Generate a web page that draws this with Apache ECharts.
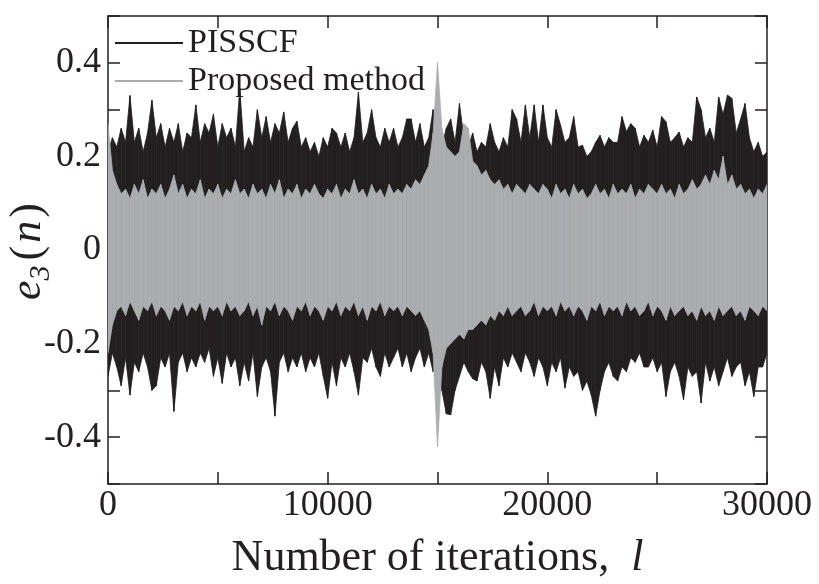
<!DOCTYPE html>
<html><head><meta charset="utf-8">
<script src="https://cdn.jsdelivr.net/npm/echarts@6/dist/echarts.min.js"></script>
<style>html,body{margin:0;padding:0;background:#fff}#c{width:819px;height:584px}</style>
</head><body><div id="c"></div>
<script>
// Envelope samples of the two error signals, one sample every SAMPLE_STEP iterations
const SAMPLE_STEP = 200;
const seriesNames = ['PISSCF', 'Proposed method'];
const xLabelValues = [0, 10000, 20000, 30000];
const yLabelValues = [-0.4, -0.2, 0, 0.2, 0.4];

// PISSCF: upper / lower envelope
const blackHi = [0.21,0.24,0.22,0.26,0.23,0.33,0.23,0.26,0.21,0.25,0.32,0.24,0.27,0.22,0.26,0.23,0.27,0.21,0.25,0.24,
0.31,0.23,0.27,0.25,0.29,0.22,0.27,0.24,0.26,0.22,0.345,0.21,0.24,0.22,0.30,0.24,0.285,0.23,0.27,0.25,
0.295,0.23,0.26,0.275,0.22,0.24,0.21,0.23,0.20,0.24,0.22,0.26,0.25,0.22,0.25,0.21,0.24,0.337,0.23,0.25,
0.30,0.24,0.22,0.26,0.23,0.26,0.22,0.24,0.28,0.28,0.23,0.27,0.22,0.24,0.30,0.24,0.22,0.26,0.28,0.23,
0.313,0.24,0.22,0.25,0.21,0.23,0.22,0.27,0.23,0.21,0.24,0.22,0.30,0.28,0.23,0.31,0.24,0.31,0.23,0.31,
0.24,0.22,0.30,0.267,0.23,0.24,0.285,0.22,0.224,0.20,0.21,0.23,0.245,0.22,0.24,0.23,0.23,0.285,0.253,0.27,
0.26,0.22,0.245,0.23,0.256,0.22,0.285,0.274,0.23,0.24,0.252,0.22,0.24,0.23,0.327,0.30,0.24,0.26,0.23,0.327,
0.29,0.331,0.324,0.25,0.28,0.313,0.24,0.21,0.23,0.20,0.21];
const blackLo = [-0.27,-0.22,-0.25,-0.29,-0.23,-0.31,-0.24,-0.26,-0.22,-0.25,-0.30,-0.29,-0.23,-0.25,-0.22,-0.345,-0.24,-0.22,-0.26,-0.23,
-0.25,-0.22,-0.24,-0.21,-0.27,-0.23,-0.285,-0.22,-0.25,-0.23,-0.29,-0.24,-0.28,-0.22,-0.313,-0.25,-0.23,-0.26,-0.355,-0.24,
-0.22,-0.26,-0.23,-0.25,-0.22,-0.26,-0.23,-0.25,-0.22,-0.27,-0.317,-0.24,-0.29,-0.23,-0.25,-0.22,-0.26,-0.31,-0.23,-0.24,
-0.21,-0.25,-0.27,-0.22,-0.25,-0.23,-0.21,-0.25,-0.22,-0.26,-0.23,-0.21,-0.25,-0.22,-0.26,-0.25,-0.30,-0.35,-0.352,-0.30,
-0.27,-0.24,-0.26,-0.275,-0.28,-0.24,-0.26,-0.317,-0.25,-0.29,-0.23,-0.25,-0.22,-0.24,-0.26,-0.22,-0.24,-0.27,-0.23,-0.25,
-0.29,-0.24,-0.26,-0.23,-0.295,-0.25,-0.27,-0.26,-0.30,-0.28,-0.31,-0.355,-0.30,-0.26,-0.24,-0.27,-0.28,-0.25,-0.26,-0.23,
-0.24,-0.22,-0.25,-0.25,-0.23,-0.26,-0.24,-0.313,-0.26,-0.24,-0.27,-0.32,-0.25,-0.27,-0.26,-0.327,-0.24,-0.28,-0.25,-0.29,
-0.26,-0.23,-0.27,-0.25,-0.24,-0.29,-0.26,-0.313,-0.25,-0.25,-0.22];

// Proposed method: upper / lower envelope
const greyHi = [0.27,0.17,0.14,0.12,0.13,0.11,0.14,0.12,0.15,0.11,0.13,0.12,0.14,0.11,0.13,0.16,0.12,0.14,0.11,0.13,
0.12,0.15,0.11,0.13,0.12,0.14,0.11,0.13,0.12,0.15,0.12,0.13,0.11,0.14,0.12,0.13,0.11,0.14,0.12,0.15,
0.11,0.13,0.12,0.14,0.11,0.13,0.12,0.14,0.12,0.11,0.13,0.12,0.14,0.11,0.13,0.12,0.15,0.12,0.13,0.11,
0.14,0.12,0.13,0.11,0.14,0.12,0.13,0.12,0.14,0.13,0.15,0.14,0.16,0.18,0.25,0.40,0.26,0.22,0.21,0.20,
0.21,0.27,0.26,0.19,0.18,0.16,0.17,0.15,0.14,0.15,0.13,0.14,0.12,0.14,0.13,0.12,0.14,0.13,0.12,0.14,
0.13,0.11,0.14,0.12,0.13,0.11,0.14,0.12,0.13,0.11,0.12,0.14,0.12,0.13,0.11,0.14,0.12,0.13,0.12,0.14,
0.11,0.13,0.12,0.14,0.13,0.12,0.14,0.12,0.13,0.11,0.14,0.12,0.13,0.15,0.13,0.14,0.16,0.14,0.17,0.15,
0.20,0.14,0.16,0.13,0.14,0.12,0.13,0.11,0.13,0.12,0.14];
const greyLo = [-0.22,-0.16,-0.13,-0.12,-0.14,-0.11,-0.13,-0.15,-0.12,-0.13,-0.11,-0.14,-0.12,-0.13,-0.15,-0.12,-0.13,-0.11,-0.14,-0.12,
-0.13,-0.11,-0.15,-0.12,-0.13,-0.12,-0.14,-0.11,-0.13,-0.12,-0.14,-0.13,-0.11,-0.14,-0.12,-0.16,-0.12,-0.13,-0.11,-0.14,
-0.12,-0.13,-0.15,-0.12,-0.13,-0.11,-0.14,-0.12,-0.13,-0.15,-0.12,-0.13,-0.11,-0.14,-0.12,-0.13,-0.11,-0.14,-0.12,-0.15,
-0.12,-0.13,-0.11,-0.14,-0.12,-0.13,-0.12,-0.14,-0.12,-0.13,-0.14,-0.13,-0.15,-0.17,-0.22,-0.42,-0.25,-0.21,-0.20,-0.19,
-0.18,-0.19,-0.17,-0.17,-0.16,-0.15,-0.16,-0.14,-0.15,-0.13,-0.14,-0.12,-0.14,-0.13,-0.12,-0.14,-0.13,-0.11,-0.14,-0.12,
-0.13,-0.12,-0.14,-0.11,-0.13,-0.12,-0.14,-0.12,-0.13,-0.15,-0.12,-0.13,-0.11,-0.14,-0.12,-0.13,-0.12,-0.14,-0.11,-0.13,
-0.12,-0.14,-0.13,-0.11,-0.14,-0.12,-0.13,-0.15,-0.12,-0.14,-0.13,-0.12,-0.14,-0.13,-0.15,-0.12,-0.14,-0.13,-0.15,-0.12,
-0.14,-0.13,-0.12,-0.14,-0.13,-0.15,-0.12,-0.13,-0.14,-0.12,-0.13];

const INK = '#231f20';
const GREY = '#abadb0';
const FONT = 'Liberation Serif';

// One band = min/max envelope; each data item draws the slice up to the next sample
function band(name, hi, lo, color, z) {
  return {
    type: 'custom', name: name, z: z, clip: true,
    itemStyle: { color: color },
    encode: { x: 0, y: [1, 2] },
    data: hi.map((v, i) => [i * SAMPLE_STEP, v, lo[i]]),
    renderItem: function (params, api) {
      const i = params.dataIndex;
      if (i >= hi.length - 1) return null;
      const x0 = api.value(0), x1 = (i + 1) * SAMPLE_STEP;
      const pts = [
        api.coord([x0, api.value(1)]), api.coord([x1, hi[i + 1]]),
        api.coord([x1, lo[i + 1]]), api.coord([x0, api.value(2)])
      ];
      return { type: 'polygon', shape: { points: pts },
        style: { fill: color, stroke: color, lineWidth: 0.8 } };
    }
  };
}

const axisLine = { show: true, onZero: false, lineStyle: { color: INK, width: 1.5 } };
const tick = { show: true, inside: true, length: 12, lineStyle: { color: INK, width: 1.5 } };

const chart = echarts.init(document.getElementById('c'));
chart.setOption({
  animation: false,
  backgroundColor: '#fff',
  grid: { left: 108, right: 52, top: 16, bottom: 100, containLabel: false, outerBoundsMode: 'none' },
  legend: {
    data: seriesNames, orient: 'vertical', left: 110, top: 21,
    icon: 'rect', itemWidth: 68, itemHeight: 2, itemGap: 4,
    textStyle: { fontFamily: FONT, fontSize: 34, lineHeight: 34, color: INK }
  },
  xAxis: [
    { type: 'value', position: 'bottom', min: 0, max: 30000, interval: 5000,
      axisLine: axisLine, axisTick: tick, splitLine: { show: false },
      axisLabel: { color: INK, fontFamily: FONT, fontSize: 36, margin: 4,
        formatter: v => xLabelValues.indexOf(v) >= 0 ? String(v) : '' },
      name: '{a|Number of iterations,  }{i|l}', nameLocation: 'middle', nameGap: 52,
      nameMoveOverlap: false,
      nameTextStyle: { rich: {
        a: { fontFamily: FONT, fontSize: 44, color: INK },
        i: { fontFamily: FONT, fontSize: 44, fontStyle: 'italic', color: INK } } } },
    { type: 'value', position: 'top', min: 0, max: 30000, interval: 5000,
      axisLine: axisLine, axisTick: tick, axisLabel: { show: false }, splitLine: { show: false } }
  ],
  yAxis: [
    { type: 'value', position: 'left', min: -0.5, max: 0.5, interval: 0.1,
      axisLine: axisLine, axisTick: tick, splitLine: { show: false },
      axisLabel: { color: INK, fontFamily: FONT, fontSize: 36, margin: 7,
        formatter: v => {
          const k = Math.round(v * 10);
          const hit = yLabelValues.some(t => Math.round(t * 10) === k);
          return hit ? (k === 0 ? '0' : (k / 10).toFixed(1)) : '';
        } },
      name: '{e|e}{s|3}{p|(}{n|n}{p|)}', nameLocation: 'middle', nameRotate: 90, nameGap: 58,
      nameMoveOverlap: false,
      nameTextStyle: { rich: {
        e: { fontFamily: FONT, fontSize: 44, fontStyle: 'italic', color: INK, lineHeight: 44, verticalAlign: 'top' },
        s: { fontFamily: FONT, fontSize: 30, fontStyle: 'italic', color: INK, lineHeight: 30, verticalAlign: 'top', padding: [20, 2, 0, 0] },
        p: { fontFamily: FONT, fontSize: 44, color: INK, lineHeight: 44, verticalAlign: 'top', padding: [0, 3, 0, 3] },
        n: { fontFamily: FONT, fontSize: 44, fontStyle: 'italic', color: INK, lineHeight: 44, verticalAlign: 'top' } } } },
    { type: 'value', position: 'right', min: -0.5, max: 0.5, interval: 0.1,
      axisLine: axisLine, axisTick: tick, axisLabel: { show: false }, splitLine: { show: false } }
  ],
  series: [
    band(seriesNames[0], blackHi, blackLo, INK, 2),
    band(seriesNames[1], greyHi, greyLo, GREY, 3)
  ]
});
</script>
</body></html>
